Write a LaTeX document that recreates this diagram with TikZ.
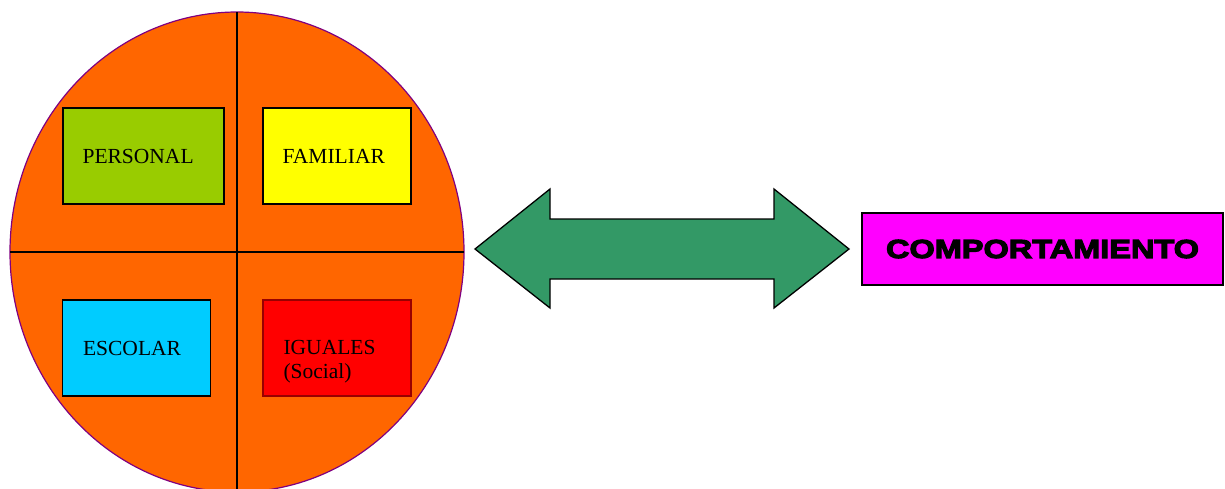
\documentclass[tikz,border=0pt]{standalone}
\usepackage{fontspec}
\setmainfont{Liberation Serif}
\newfontfamily\heavyfont{Liberation Sans Bold}[FakeBold=4.5,FakeStretch=1.25]
\usetikzlibrary{positioning}

\definecolor{Naranja}{HTML}{FF6600}
\definecolor{Morado}{HTML}{800080}
\definecolor{Lima}{HTML}{99CC00}
\definecolor{Amarillo}{HTML}{FFFF00}
\definecolor{Celeste}{HTML}{00CCFF}
\definecolor{Rojo}{HTML}{FF0000}
\definecolor{RojoOsc}{HTML}{990000}
\definecolor{Verde}{HTML}{339966}
\definecolor{Magenta}{HTML}{FF00FF}

\begin{document}
\begin{tikzpicture}[x=1pt, y=-1pt]
			\tikzstyle{Area}	= [draw=black, line width=1.3pt, inner sep=0pt, minimum height=96pt]
			\tikzstyle{Label}	= [inner sep=0pt, font=\fontsize{21.5}{24}\selectfont, align=left]
			\tikzstyle{Cross}	= [black, line width=1.3pt]
			\tikzstyle{Result}	= [draw=black, line width=1.3pt, fill=Magenta, minimum width=361pt, minimum height=72pt, font=\heavyfont\fontsize{26}{26}\selectfont]
			\tikzstyle{Both}	= [draw=black, line width=1.3pt, fill=Verde, line join=miter]
			
			\useasboundingbox (0,0) rectangle (1225,488);
			\clip (0,0) rectangle (1225,488);
			
			% circulo de contextos
			\coordinate (c) at (237,252);
			\draw [fill=Naranja, draw=Morado, line width=1.2pt] (c) ellipse (227 and 240);
			\draw [Cross] (237,12) -- (237,495);
			\draw [Cross] (10,252) -- (464,252);
			
			\node (personal) at (143.5,156) [Area][fill=Lima, minimum width=161pt] {};
			\node (familiar) at (337,156) [Area][fill=Amarillo, minimum width=148pt] {};
			\node (escolar) at (136.5,348) [Area][fill=Celeste, minimum width=148pt] {};
			\node (iguales) at (337,348) [Area][fill=Rojo, draw=RojoOsc, minimum width=148pt] {};
			
			\node (personal-t) [Label, anchor=west] at ([xshift=20pt]personal.west) {PERSONAL};
			\node (familiar-t) [Label, anchor=west] at ([xshift=20pt]familiar.west) {FAMILIAR};
			\node (escolar-t) [Label, anchor=west] at ([xshift=21pt]escolar.west) {ESCOLAR};
			\node (iguales-t) [Label, anchor=north west] at ([xshift=21pt, yshift=-41pt]iguales.north west) {IGUALES\\(Social)};
			
			% flecha doble
			\draw [Both] (475,249) -- (550,189) -- (550,219) -- (774,219) -- (774,189) -- (849,249)
				-- (774,308) -- (774,279) -- (550,279) -- (550,308) -- cycle;
			
			\node (comp) at (1042.5,249) [Result] {COMPORTAMIENTO};
		\end{tikzpicture}
\end{document}
